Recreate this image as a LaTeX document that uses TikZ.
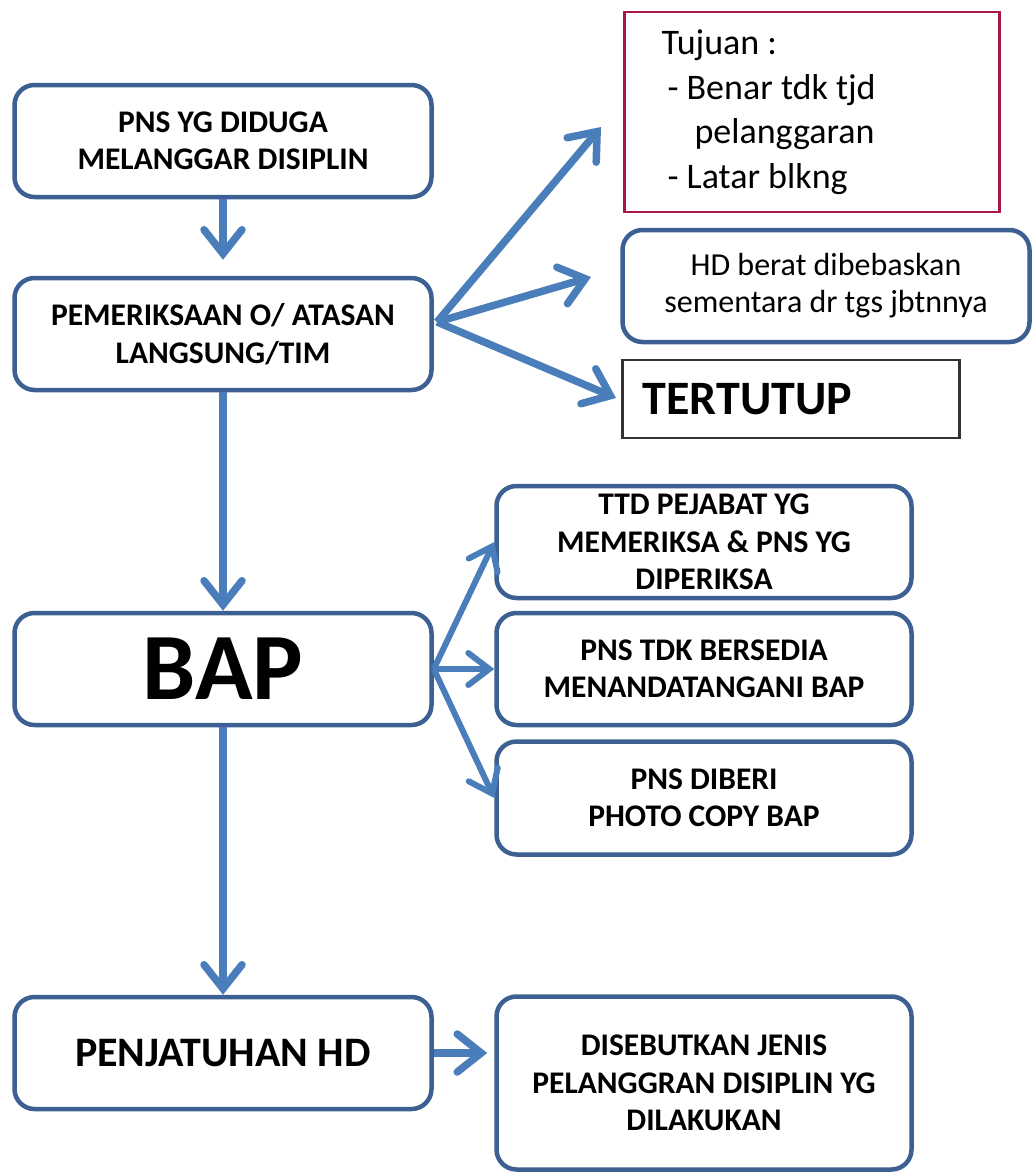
\documentclass[tikz,border=0pt]{standalone}
\usepackage{fontspec}
\setmainfont{Carlito}
\usetikzlibrary{arrows.meta,positioning}
\definecolor{boxblue}{HTML}{3B6091}
\definecolor{arrowblue}{HTML}{4A7EBB}
\definecolor{tujuanred}{HTML}{A8174A}

\begin{document}
\begin{tikzpicture}[x=1pt,y=-1pt,
			box/.style={rectangle,rounded corners=20pt,draw=boxblue,line width=4.5pt,
				minimum width=417pt,minimum height=112pt,align=center,
				font=\bfseries\fontsize{31.5}{37.5}\selectfont},
			arr/.style={draw=arrowblue,line width=7.5pt,
				-{Straight Barb[length=24pt,width=38pt,line cap=round]}},
			thinarr/.style={draw=arrowblue,line width=6pt,
				-{Straight Barb[length=21pt,width=32pt,line cap=round]}},
			]
			\useasboundingbox (0,0) rectangle (1032,1172);
			% left column
			\node [box] (pns) at (223,141) {PNS YG DIDUGA\\ MELANGGAR DISIPLIN};
			\node [box] (periksa) at (223,334) {PEMERIKSAAN O/ ATASAN\\ LANGSUNG/TIM};
			\node [box,font=\bfseries\fontsize{95}{95}\selectfont] (bap) at (223,669) {BAP};
			\node [box,font=\bfseries\fontsize{42}{48}\selectfont] (jatuh) at (223,1053) {PENJATUHAN HD};
			% right column
			\node [rectangle,draw=tujuanred,line width=2.5pt,minimum width=375pt,minimum height=200pt,
				inner xsep=37pt,text width=301pt,align=flush left,
				font=\fontsize{36}{44.5}\selectfont] (tujuan) at (812,112)
				{Tujuan :\\ \hspace{6pt}- Benar tdk tjd\\ \hspace{33pt}pelanggaran\\ \hspace{6pt}- Latar blkng};
			\node [box,minimum width=407pt,font=\fontsize{32}{37}\selectfont] (berat) at (826,286)
				{HD berat dibebaskan\\ sementara dr tgs jbtnnya};
			\node [rectangle,draw=black!80,line width=2.5pt,minimum width=337pt,minimum height=78pt,
				inner xsep=20pt,text width=297pt,align=flush left,
				font=\bfseries\fontsize{48}{48}\selectfont] (tutup) at (791,399) {TERTUTUP};
			\node [box,minimum width=415pt] (ttd) at (704,542) {TTD PEJABAT YG\\ MEMERIKSA \& PNS YG\\ DIPERIKSA};
			\node [box,minimum width=415pt] (tdk) at (704,669) {PNS TDK BERSEDIA\\ MENANDATANGANI BAP};
			\node [box,minimum width=415pt,minimum height=113pt] (diberi) at (704,798) {PNS DIBERI\\ PHOTO COPY BAP};
			\node [box,minimum width=415pt,minimum height=173pt] (sebut) at (704,1083)
				{DISEBUTKAN JENIS\\ PELANGGRAN DISIPLIN YG\\ DILAKUKAN};
			% free ends of the fan
			\coordinate (fan) at (437,322);
			\coordinate (tipa) at (601,127);
			\coordinate (tipb) at (591,277);
			\coordinate (tipc) at (616,398);
			% connectors
			\draw [arr,shorten >=16pt] (pns) -- (periksa);
			\draw [arr] (periksa) -- (bap);
			\draw [arr] (bap) -- (jatuh);
			\draw [arr] (fan) -- (tipa);
			\draw [arr] (fan) -- (tipb);
			\draw [arr] (fan) -- (tipc);
			\draw [thinarr] (bap.east) -- (ttd.west);
			\draw [thinarr] (bap.east) -- (tdk.west);
			\draw [thinarr] (bap.east) -- (diberi.west);
			\draw [arr,shorten >=7pt] (jatuh.east) -- (jatuh.east -| sebut.west);
		\end{tikzpicture}
\end{document}
